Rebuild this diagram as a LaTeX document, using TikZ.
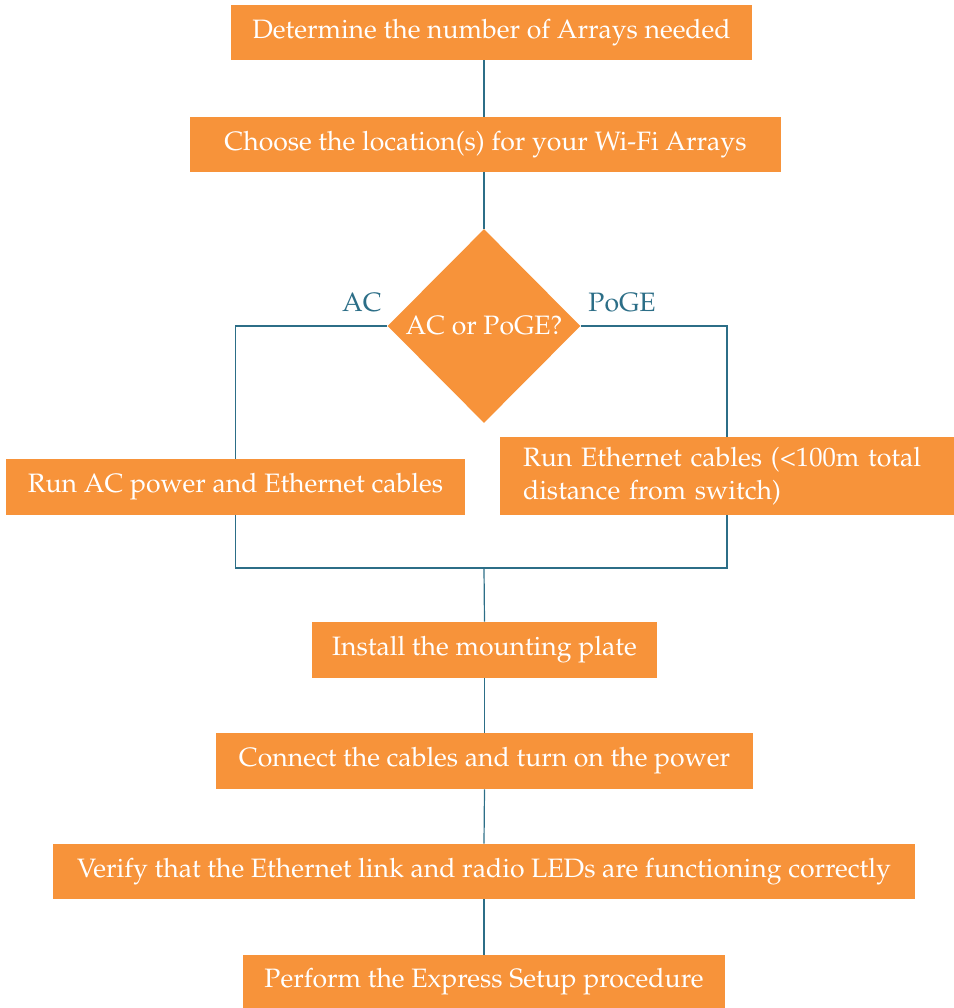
\documentclass[tikz,border=0pt]{standalone}
\usepackage[T1]{fontenc}
\usepackage{mathpazo}
\usepackage{xcolor}
\usepackage{tikz}
\usetikzlibrary{shapes.geometric,positioning,calc}
\definecolor{boxorange}{HTML}{F7933A}
\definecolor{linkteal}{HTML}{2C6E87}

\begin{document}
\begin{tikzpicture}[x=0.5pt,y=-0.5pt,
    stepbox/.style={fill=boxorange, text=white, inner sep=0pt, minimum height=27.5pt, font=\fontsize{13.3}{16.5}\selectfont},
    decision/.style={diamond, fill=boxorange, text=white, inner sep=0pt, minimum width=96.5pt, minimum height=97pt, font=\fontsize{13.3}{16.5}\selectfont},
    link/.style={draw=linkteal, line width=0.6pt},
    branch/.style={text=linkteal, font=\fontsize{13.3}{16.5}\selectfont}]
    \useasboundingbox (0,0) rectangle (954,1008);

    % Steps
    \node[stepbox, minimum width=260.5pt] (count) at (491.5,32.5) {Determine the number of Arrays needed};
    \node[stepbox, minimum width=295.5pt] (place) at (485.5,144.5) {Choose the location(s) for your Wi-Fi Arrays};
    \node[decision] (power) at (484,326) {AC or PoGE?};
    \node[stepbox, minimum width=229.5pt, minimum height=28pt] (acrun) at (235.5,487) {Run AC power and Ethernet cables};
    \node[stepbox, minimum width=227pt, minimum height=39pt, text width=204pt, inner xsep=11.5pt, align=left] (ethrun) at (727,476) {Run Ethernet cables (\textless100m total\\distance from switch)};
    \node[stepbox, minimum width=172.5pt, minimum height=28pt] (mount) at (484.5,650) {Install the mounting plate};
    \node[stepbox, minimum width=268.5pt, minimum height=28pt] (cable) at (484.5,761) {Connect the cables and turn on the power};
    \node[stepbox, minimum width=431pt] (verify) at (484,871.5) {Verify that the Ethernet link and radio LEDs are functioning correctly};
    \node[stepbox, minimum width=241pt, minimum height=26.5pt] (setup) at (484,981.5) {Perform the Express Setup procedure};

    % Branch labels
    \node[branch] (aclabel) at (362,303) {AC};
    \node[branch] (pogelabel) at (622,303) {PoGE};

    % Connectors
    \coordinate (merge) at (484,568);
    \draw[link] (count.south -| power) -- (place.north -| power);
    \draw[link] (place.south -| power) -- (power.north);
    \draw[link] (power.west) -| (acrun.north);
    \draw[link] (power.east) -| (ethrun.north);
    \draw[link] (acrun.south) |- (merge) -| (ethrun.south);
    \draw[link] (merge) -- (mount.north);
    \draw[link] (mount.south) -- (cable.north);
    \draw[link] (cable.south) -- (verify.north);
    \draw[link] (verify.south) -- (setup.north);
\end{tikzpicture}
\end{document}
